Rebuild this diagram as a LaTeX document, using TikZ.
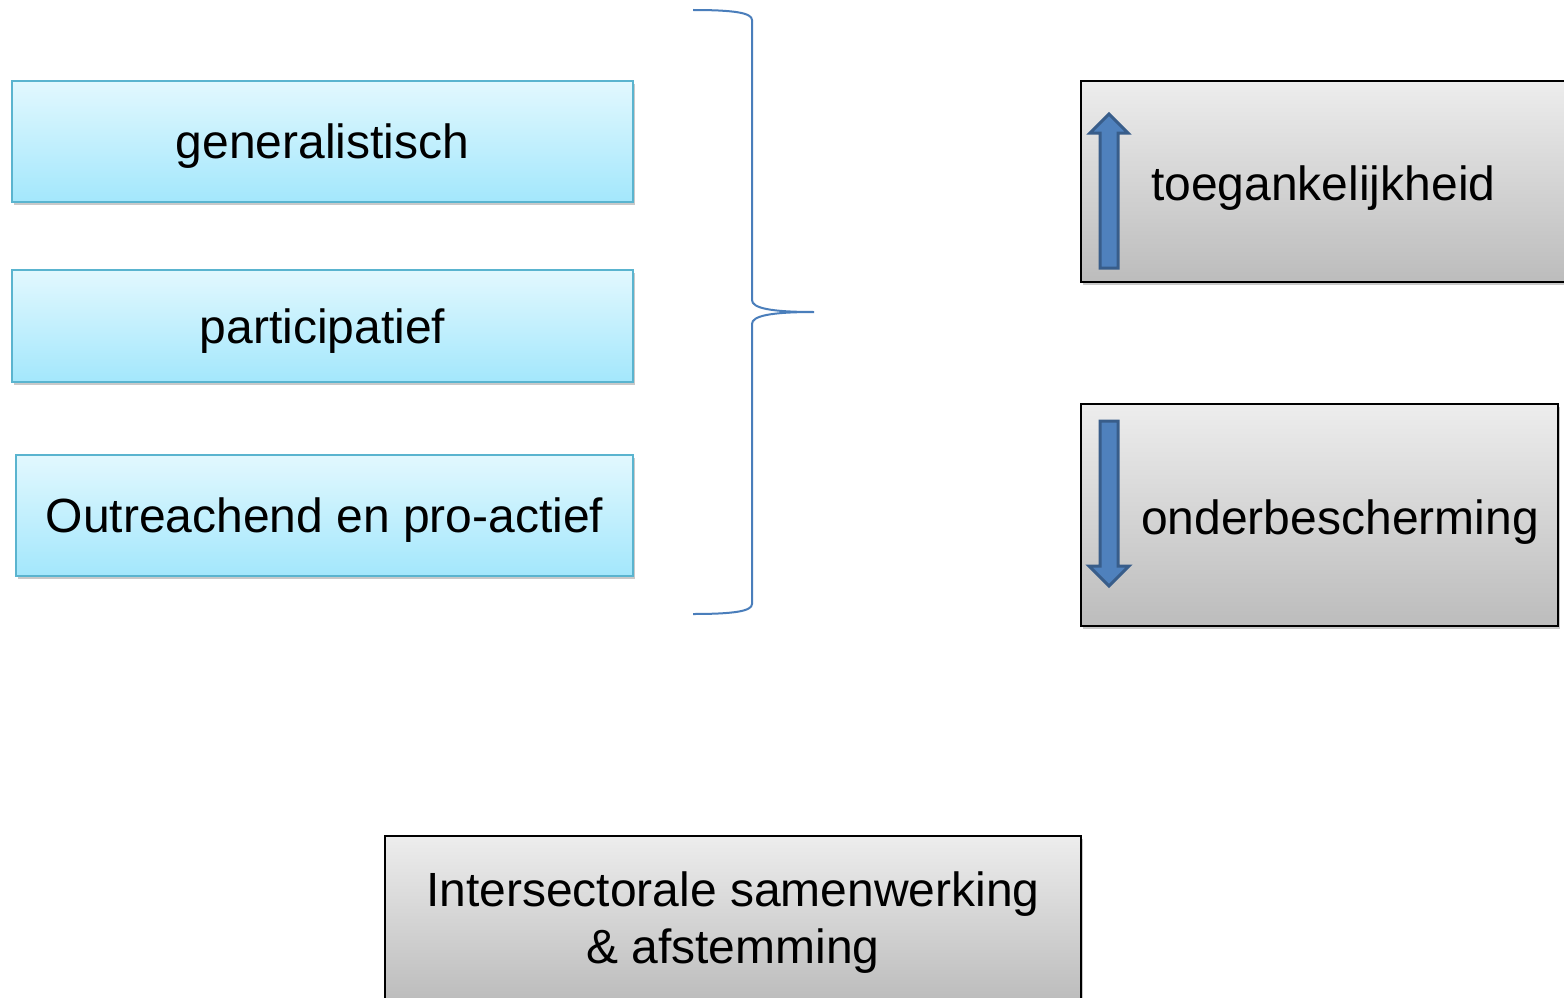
\documentclass[tikz,border=0pt]{standalone}
\usepackage{fontspec}
\setmainfont{Liberation Sans}
\usetikzlibrary{shadows}
\definecolor{bluetop}{HTML}{E2F8FE}
\definecolor{bluebot}{HTML}{A3E7FC}
\definecolor{blueedge}{HTML}{5AB4CF}
\definecolor{graytop}{HTML}{EDEDED}
\definecolor{graybot}{HTML}{BCBCBC}
\definecolor{bracecol}{HTML}{4A7EBB}
\definecolor{arrfill}{HTML}{4F81BD}
\definecolor{arredge}{HTML}{385D8A}
\tikzset{
  bigtext/.style={font=\fontsize{48}{57}\selectfont, text=black},
  bluebox/.style={draw=blueedge, line width=1.5pt, top color=bluetop, bottom color=bluebot,
    drop shadow={shadow xshift=2pt, shadow yshift=-3pt, opacity=0.35, fill=black!60},
    bigtext, inner sep=0pt, text height=34pt, text depth=0pt},
  graybox/.style={draw=black, line width=2pt, top color=graytop, bottom color=graybot,
    drop shadow={shadow xshift=2pt, shadow yshift=-3pt, opacity=0.35, fill=black!60},
    inner sep=0pt},
  blockarrow/.style={fill=arrfill, draw=arredge, line width=3pt, line join=miter},
  bracestyle/.style={draw=bracecol, line width=2pt}
}
\begin{document}
\begin{tikzpicture}[x=1pt, y=-1pt]
\useasboundingbox (0,0) rectangle (1564,998);
\clip (0,0) rectangle (1564,998);
\fill[white] (0,0) rectangle (1564,998);

% left boxes
\node[bluebox, minimum width=621pt, minimum height=121pt] (gen) at (322.5,141.5) {generalistisch};
\node[bluebox, minimum width=621pt, minimum height=112pt] (part) at (322.5,326) {participatief};
\node[bluebox, minimum width=617pt, minimum height=121pt] (out) at (324.5,515.5) {Outreachend en pro-actief};

% brace
\draw[bracestyle] (693,10) .. controls (735,10) and (752,13) .. (752,20)
  -- (752,300) .. controls (752,308) and (770,312) .. (814,312)
  .. controls (770,312) and (752,316) .. (752,324)
  -- (752,604) .. controls (752,611) and (735,614) .. (693,614);

% right boxes
\node[graybox, minimum width=489pt, minimum height=201pt] (toeg) at (1325.5,181.5) {};
\node[bigtext, anchor=west, inner sep=0pt] (toegt) at (1151,188) {toegankelijkheid};
\draw[blockarrow] (1109,114) -- (1128,133) -- (1118,133) -- (1118,268) -- (1100,268)
  -- (1100,133) -- (1090,133) -- cycle;

\node[graybox, minimum width=477pt, minimum height=222pt] (onder) at (1319.5,515) {};
\node[bigtext, anchor=west, inner sep=0pt] (ondert) at (1141,522) {onderbescherming};
\draw[blockarrow] (1100,421) -- (1118,421) -- (1118,566) -- (1129,566) -- (1109,586)
  -- (1089,566) -- (1100,566) -- cycle;

% bottom box
\node[graybox, minimum width=696pt, minimum height=166pt] (inter) at (733,919) {};
\node[bigtext, align=center, inner sep=0pt] (intert) at (733,923) {Intersectorale samenwerking\\\& afstemming};
\end{tikzpicture}
\end{document}
